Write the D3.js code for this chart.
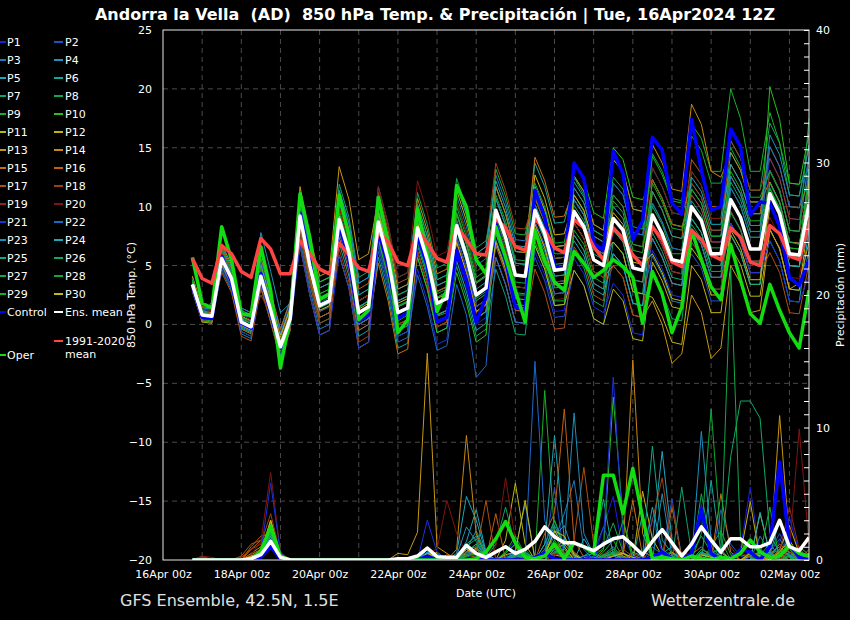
<!DOCTYPE html>
<html>
<head>
<meta charset="utf-8">
<script src="https://cdn.jsdelivr.net/npm/d3@7"></script>
<style>
  body { margin: 0; background: #000; }
  svg { display: block; font-family: "DejaVu Sans", sans-serif; }
</style>
</head>
<body>
<script>
const width = 850, height = 620;
const plot = { left: 163, right: 809, top: 30, bottom: 560 };

// run starts 16Apr2024 12Z, first step +6h, 6-hourly up to +384h
const firstStep = Date.UTC(2024, 3, 16, 18);
const nSteps = 64;

const memberNames = ['P1','P2','P3','P4','P5','P6','P7','P8','P9','P10','P11','P12','P13','P14','P15',
  'P16','P17','P18','P19','P20','P21','P22','P23','P24','P25','P26','P27','P28','P29','P30'];
const memberColors = ['#1e1ee0','#1e50c8','#1e78c0','#1e90c0','#18a8c0','#10a898','#10a070','#10a850','#18b028','#28c018',
  '#b8b810','#c8b010','#c89810','#c88810','#c87010','#c06010','#b05010','#a04010','#902818','#801410',
  '#1c30e0','#1c68c8','#1c90b8','#18a8b8','#10a888','#10a868','#10a848','#10a838','#18b020','#c8b810'];

// 850 hPa temperature (°C)
const climate = [5.6,3.9,3.5,6.7,6.0,4.5,4.0,7.3,6.4,4.3,4.3,7.1,6.0,4.7,4.3,6.9,5.9,4.8,4.5,7.8,7.0,5.3,5.0,8.0,6.9,5.6,5.3,8.3,7.2,6.0,5.9,9.0,8.2,6.6,6.3,9.0,8.0,6.5,6.1,8.9,8.2,6.6,5.5,8.2,7.3,5.9,5.0,8.3,7.2,5.3,4.9,8.0,7.2,5.9,5.5,8.2,7.4,5.3,5.0,8.4,7.7,5.8,5.5,8.6];
const ensMean = [3.4,0.8,0.7,5.6,3.9,0.2,-0.2,4.1,1.2,-1.9,0.5,9.2,5.0,1.6,2.0,8.9,6.1,1.0,1.5,8.7,5.5,1.0,1.4,8.2,5.5,1.8,2.2,8.4,5.8,2.5,3.1,9.7,7.4,4.2,4.1,9.7,7.7,4.6,4.7,9.6,8.3,5.5,5.0,9.0,8.0,4.8,4.6,9.3,7.7,5.5,5.3,10.0,8.8,6.0,6.0,10.6,9.1,6.4,6.4,11.1,9.4,6.0,5.9,10.2];
const control = [3.2,0.6,0.5,5.8,3.6,0.1,-0.3,4.3,1.0,-2.0,0.3,9.5,5.5,1.7,2.0,8.5,5.5,0.3,0.8,8.0,5.0,0.5,1.0,7.5,5.0,0.2,0.6,6.3,3.8,0.2,2.3,8.6,5.5,1.5,1.2,11.4,9.1,4.9,4.7,13.7,12.4,6.9,6.3,14.7,12.8,7.2,8.8,15.9,14.8,10.3,9.4,17.4,13.1,9.7,10.0,16.6,15.1,9.3,10.4,10.3,8.3,4.0,3.3,5.5];
const oper = [5.7,1.8,1.4,8.3,5.5,0.9,0.8,6.6,2.9,-3.7,0.6,11.1,7.4,2.1,2.6,11.0,7.5,0.4,1.2,10.8,7.0,-0.7,0.4,9.8,6.0,1.1,2.9,11.8,10.0,5.5,4.3,8.3,5.7,2.9,0.2,8.0,5.4,3.6,2.9,6.2,5.2,4.0,4.6,5.5,4.9,4.0,0.1,4.5,2.6,-0.7,1.5,8.0,5.5,3.2,2.1,6.8,3.8,0.9,0.1,3.4,1.2,-0.7,-2.0,2.9];

const memberTemp = [
  [3.1,0.5,0.4,5.1,3.4,-0.3,-0.7,3.8,0.9,-2.2,0.2,8.2,4.0,0.6,1.0,7.4,4.6,-0.5,0.0,6.7,3.5,-1.0,-0.6,7.2,4.5,0.8,1.2,5.9,3.3,0.0,0.6,6.7,4.4,1.2,1.1,6.2,4.2,1.1,1.2,7.6,6.3,3.5,3.0,8.0,7.0,3.8,3.6,9.3,7.7,5.5,5.3,11.0,9.8,7.0,7.0,12.6,11.1,8.4,8.4,14.1,12.4,9.0,8.9,13.2],
  [3.8,1.2,1.1,6.4,4.7,1.0,0.6,5.1,2.2,-0.9,1.5,9.7,5.5,2.1,2.5,10.4,7.6,2.5,3.0,10.7,7.5,3.0,3.4,9.2,6.5,2.8,3.2,7.4,4.8,1.5,2.1,7.7,5.4,2.2,2.1,5.7,3.7,0.6,0.7,4.6,3.3,0.5,0.0,6.0,5.0,1.8,1.6,7.3,5.7,3.5,3.3,6.0,4.8,2.0,2.0,7.6,6.1,3.4,3.4,10.1,8.4,5.0,4.9,10.2],
  [2.9,0.3,0.2,4.6,2.9,-0.8,-1.2,3.6,0.7,-2.4,0.0,7.2,3.0,-0.4,0.0,7.9,5.1,0.0,0.5,9.2,6.0,1.5,1.9,9.7,7.0,3.3,3.7,10.9,8.3,5.0,5.6,12.7,10.4,7.2,7.1,11.7,9.7,6.6,6.7,9.6,8.3,5.5,5.0,7.0,6.0,2.8,2.6,5.8,4.2,2.0,1.8,8.0,6.8,4.0,4.0,10.6,9.1,6.4,6.4,12.1,10.4,7.0,6.9,9.2],
  [3.6,1.0,0.9,5.9,4.2,0.5,0.1,3.3,0.4,-2.7,-0.3,10.2,6.0,2.6,3.0,11.4,8.6,3.5,4.0,11.7,8.5,4.0,4.4,10.2,7.5,3.8,4.2,6.4,3.8,0.5,1.1,5.7,3.4,0.2,0.1,7.7,5.7,2.6,2.7,10.6,9.3,6.5,6.0,12.0,11.0,7.8,7.6,13.3,11.7,9.5,9.3,12.0,10.8,8.0,8.0,9.6,8.1,5.4,5.4,8.1,6.4,3.0,2.9,6.2],
  [4.0,1.4,1.3,6.6,4.9,1.2,0.8,5.6,2.7,-0.4,2.0,11.2,7.0,3.6,4.0,9.4,6.6,1.5,2.0,7.2,4.0,-0.5,-0.1,5.7,3.0,-0.7,-0.3,5.4,2.8,-0.5,0.1,8.7,6.4,3.2,3.1,10.7,8.7,5.6,5.7,12.6,11.3,8.5,8.0,14.0,13.0,9.8,9.6,12.3,10.7,8.5,8.3,10.0,8.8,6.0,6.0,8.6,7.1,4.4,4.4,7.1,5.4,2.0,1.9,8.2],
  [3.2,0.6,0.5,5.6,3.9,0.2,-0.2,4.6,1.7,-1.4,1.0,8.7,4.5,1.1,1.5,6.9,4.1,-1.0,-0.5,5.7,2.5,-2.0,-1.6,6.7,4.0,0.3,0.7,8.9,6.3,3.0,3.6,11.7,9.4,6.2,6.1,13.7,11.7,8.6,8.7,12.1,10.8,8.0,7.5,9.0,8.0,4.8,4.6,8.3,6.7,4.5,4.3,11.5,10.3,7.5,7.5,14.6,13.1,10.4,10.4,13.1,11.4,8.0,7.9,11.2],
  [3.4,0.8,0.7,5.1,3.4,-0.3,-0.7,3.1,0.2,-2.9,-0.5,10.7,6.5,3.1,3.5,11.9,9.1,4.0,4.5,9.7,6.5,2.0,2.4,7.2,4.5,0.8,1.2,4.9,2.3,-1.0,-0.4,4.7,2.4,-0.8,-0.9,6.7,4.7,1.6,1.7,8.6,7.3,4.5,4.0,6.0,5.0,1.8,1.6,4.3,2.7,0.5,0.3,7.0,5.8,3.0,3.0,10.6,9.1,6.4,6.4,13.1,11.4,8.0,7.9,14.2],
  [3.7,1.1,1.0,6.1,4.4,0.7,0.3,4.1,1.2,-1.9,0.5,7.7,3.5,0.1,0.5,8.4,5.6,0.5,1.0,10.2,7.0,2.5,2.9,11.2,8.5,4.8,5.2,12.4,9.8,6.5,7.1,11.7,9.4,6.2,6.1,8.7,6.7,3.6,3.7,6.1,4.8,2.0,1.5,7.0,6.0,2.8,2.6,10.3,8.7,6.5,6.3,13.0,11.8,9.0,9.0,15.6,14.1,11.4,11.4,17.1,15.4,12.0,11.9,13.2],
  [3.0,0.4,0.3,4.8,3.1,-0.6,-1.0,4.6,1.7,-1.4,1.0,10.2,6.0,2.6,3.0,7.9,5.1,0.0,0.5,6.7,3.5,-1.0,-0.6,8.2,5.5,1.8,2.2,10.4,7.8,4.5,5.1,13.2,10.9,7.7,7.6,11.7,9.7,6.6,6.7,9.6,8.3,5.5,5.0,11.0,10.0,6.8,6.6,14.3,12.7,10.5,10.3,17.0,15.8,13.0,13.0,20.0,17.5,13.0,13.0,18.0,15.4,11.0,10.9,15.2],
  [3.9,1.3,1.2,5.9,4.2,0.5,0.1,3.6,0.7,-2.4,0.0,11.2,7.0,3.6,4.0,9.9,7.1,2.0,2.5,8.2,5.0,0.5,0.9,5.7,3.0,-0.7,-0.3,4.4,1.8,-1.5,-0.9,7.7,5.4,2.2,2.1,10.7,8.7,5.6,5.7,13.6,12.3,9.5,9.0,15.0,14.0,10.8,10.6,12.3,10.7,8.5,8.3,9.0,7.8,5.0,5.0,11.6,10.1,7.4,7.4,20.2,17.4,12.0,11.9,16.2],
  [2.8,0.2,0.1,6.1,4.4,0.7,0.3,5.1,2.2,-0.9,1.5,8.2,4.0,0.6,1.0,5.9,3.1,-2.0,-1.5,7.7,4.5,0.0,0.4,9.2,6.5,2.8,3.2,11.4,8.8,5.5,6.1,9.7,7.4,4.2,4.1,6.7,4.7,1.6,1.7,4.6,3.3,0.5,0.0,3.0,2.0,-1.2,-1.4,5.3,3.7,1.5,1.3,8.0,6.8,4.0,4.0,6.6,5.1,2.4,2.4,8.1,6.4,3.0,2.9,9.2],
  [3.5,0.9,0.8,5.3,3.6,-0.1,-0.5,4.9,2.0,-1.1,1.3,9.2,5.0,1.6,2.0,9.9,7.1,2.0,2.5,8.7,5.5,1.0,1.4,6.2,3.5,-0.2,0.2,7.4,4.8,1.5,2.1,10.7,8.4,5.2,5.1,12.7,10.7,7.6,7.7,10.6,9.3,6.5,6.0,7.0,6.0,2.8,2.6,2.3,0.7,-1.5,-1.7,5.0,3.8,1.0,1.0,7.6,6.1,3.4,3.4,10.1,8.4,5.0,4.9,12.2],
  [4.1,1.5,1.4,6.8,5.1,1.4,1.0,4.6,1.7,-1.4,1.0,11.7,7.5,4.1,4.5,13.4,10.6,5.5,6.0,10.7,7.5,3.0,3.4,7.2,4.5,0.8,1.2,6.4,3.8,0.5,1.1,9.7,7.4,4.2,4.1,11.7,9.7,6.6,6.7,8.6,7.3,4.5,4.0,5.0,4.0,0.8,0.6,2.0,0.0,-3.3,-2.5,2.5,1.0,-2.9,-2.0,5.0,3.5,1.0,1.2,8.0,6.5,3.0,3.5,7.0],
  [3.2,0.8,1.0,5.6,3.9,0.2,-0.2,4.4,1.5,-1.6,0.8,6.7,2.5,-0.9,-0.5,7.9,5.1,0.0,0.5,9.7,6.5,2.0,2.4,10.7,8.0,4.3,4.7,9.4,6.8,3.5,4.1,8.7,6.4,3.2,3.1,9.7,7.7,4.6,4.7,12.6,11.3,8.5,8.0,14.0,13.0,9.8,9.6,15.3,13.7,11.5,11.3,18.7,17.0,13.0,12.5,14.6,13.1,10.4,10.4,12.1,10.4,7.0,6.9,10.2],
  [3.7,1.1,1.0,5.0,3.3,-0.4,-0.8,3.6,0.7,-2.4,0.0,9.7,5.5,2.1,2.5,7.4,4.6,-0.5,0.0,5.2,2.0,-2.5,-2.1,6.2,3.5,-0.2,0.2,8.4,5.8,2.5,3.1,11.7,9.4,6.2,6.1,14.2,12.2,9.1,9.2,11.6,10.3,7.5,7.0,9.0,8.0,4.8,4.6,7.3,5.7,3.5,3.3,10.0,8.8,6.0,6.0,13.6,12.1,9.4,9.4,15.1,13.4,10.0,9.9,12.2],
  [2.9,0.3,0.2,6.4,4.7,1.0,0.6,5.6,2.7,-0.4,2.0,10.7,6.5,3.1,3.5,10.9,8.1,3.0,3.5,9.2,6.0,1.5,1.9,7.2,4.5,0.8,1.2,6.4,3.8,0.5,1.1,6.7,4.4,1.2,1.1,8.7,6.7,3.6,3.7,9.6,8.3,5.5,5.0,8.0,7.0,3.8,3.6,11.3,9.7,7.5,7.3,14.0,12.8,10.0,10.0,12.6,11.1,8.4,8.4,11.1,9.4,6.0,5.9,8.2],
  [3.6,1.0,0.9,4.4,2.7,-1.0,-1.4,3.1,0.2,-3.0,-0.5,8.2,4.0,0.6,1.0,9.9,7.1,2.0,2.5,11.2,8.0,3.5,3.9,9.2,6.5,2.8,3.2,6.9,4.3,1.0,1.6,5.7,3.4,0.2,0.1,4.7,2.7,-0.4,-0.3,6.6,5.3,2.5,2.0,9.0,8.0,4.8,4.6,12.3,10.7,8.5,8.3,11.0,9.8,7.0,7.0,8.6,7.1,4.4,4.4,6.1,4.4,1.0,0.9,5.2],
  [3.3,1.2,0.4,6.0,4.3,0.6,0.2,2.5,0.9,-2.2,0.2,7.7,3.5,0.1,0.5,6.4,3.6,-1.5,-1.0,7.7,4.5,0.0,0.4,9.7,7.0,3.3,3.7,11.9,9.3,6.0,6.6,13.7,11.4,8.2,8.1,10.7,8.7,5.6,5.7,7.6,6.3,3.5,3.0,5.0,4.0,0.8,0.6,8.3,6.7,4.5,4.3,12.0,10.8,8.0,8.0,15.6,14.1,11.4,11.4,14.1,12.4,9.0,8.9,11.2],
  [3.4,0.6,1.3,5.4,3.7,0.0,-0.4,4.7,1.8,-1.3,1.1,9.7,5.5,2.1,2.5,8.9,6.1,1.0,1.5,7.7,4.5,0.0,0.4,6.2,3.5,-0.2,0.2,9.4,6.8,3.5,4.1,9.7,7.4,4.2,4.1,7.7,5.7,2.6,2.7,9.6,8.3,5.5,5.0,10.0,9.0,5.8,5.6,8.3,6.7,4.5,4.3,7.0,5.8,3.0,3.0,9.6,8.1,5.4,5.4,13.1,11.4,8.0,7.9,11.2],
  [3.9,1.3,1.2,6.2,4.5,0.8,0.4,3.5,0.6,-2.5,-0.1,8.7,4.5,1.1,1.5,9.9,7.1,2.0,2.5,11.7,8.5,4.0,4.4,12.2,9.5,5.8,6.2,10.4,7.8,4.5,5.1,8.7,6.4,3.2,3.1,7.2,5.2,2.1,2.2,8.6,7.3,4.5,4.0,11.0,10.0,6.8,6.6,13.3,11.7,9.5,9.3,13.0,11.8,9.0,9.0,10.6,9.1,6.4,6.4,9.1,7.4,4.0,3.9,9.2],
  [3.1,0.5,0.4,4.8,3.1,-0.6,-1.0,3.5,0.6,-2.5,-0.1,6.7,2.5,-0.9,-0.5,5.9,3.1,-2.0,-1.5,6.7,3.5,-1.0,-0.6,4.7,2.0,-1.7,-1.3,7.4,4.8,1.5,2.1,10.7,8.4,5.2,5.1,8.7,6.7,3.6,3.7,5.6,4.3,1.5,1.0,3.5,2.5,-0.7,-0.9,6.3,4.7,2.5,2.3,10.0,8.8,6.0,6.0,8.6,7.1,4.4,4.4,7.1,5.4,2.0,1.9,4.2],
  [3.8,1.0,1.9,5.8,4.1,1.4,1.0,5.3,2.4,-0.7,1.7,8.7,4.5,1.1,1.5,7.9,5.1,0.0,0.5,6.2,3.0,-1.5,-1.1,4.2,1.5,-2.2,-1.8,3.4,0.8,-4.5,-3.5,5.7,3.4,0.2,0.1,7.7,5.7,2.6,2.7,10.6,9.3,6.5,6.0,12.0,11.0,7.8,7.6,10.3,8.7,6.5,6.3,8.0,6.8,4.0,4.0,11.6,10.1,7.4,7.4,15.1,13.4,10.0,9.9,14.2],
  [3.0,0.9,0.6,5.9,4.4,0.8,0.6,7.8,4.5,1.0,1.8,10.7,6.5,3.1,3.5,11.4,8.6,3.5,4.0,9.7,6.5,2.0,2.4,8.7,6.0,2.3,2.7,6.4,3.8,0.5,1.1,7.2,4.9,1.7,1.6,9.2,7.2,4.1,4.2,11.6,10.3,7.5,7.0,10.0,9.0,5.8,5.6,7.3,5.7,3.5,3.3,9.0,7.8,5.0,5.0,12.6,11.1,8.4,8.4,16.1,14.4,11.0,10.9,15.2],
  [3.6,0.7,0.5,5.2,3.5,-0.2,-0.6,4.4,1.5,-1.6,0.8,9.7,5.5,2.1,2.5,9.4,6.6,1.5,2.0,8.2,5.0,0.5,0.9,9.7,7.0,3.3,3.7,11.9,9.3,6.0,6.6,12.2,9.9,6.7,6.6,10.2,8.2,5.1,5.2,7.1,5.8,3.0,2.5,6.0,5.0,1.8,1.6,9.3,7.7,5.5,5.3,12.5,11.3,8.5,8.5,13.6,12.1,9.4,9.4,10.1,8.4,5.0,4.9,8.2],
  [3.2,1.0,0.9,5.8,4.0,0.4,0.1,4.3,1.4,-1.7,0.7,9.9,5.7,2.3,2.7,10.4,7.6,2.5,3.0,10.2,7.0,2.5,2.9,7.2,4.5,0.8,1.2,7.9,5.3,2.0,2.6,10.7,8.4,5.2,5.1,8.2,6.2,3.1,3.2,7.6,6.3,3.5,3.0,9.0,8.0,4.8,4.6,11.3,9.7,7.5,7.3,9.0,7.8,5.0,5.0,7.6,6.1,3.4,3.4,11.1,9.4,6.0,5.9,13.2],
  [3.5,0.8,0.9,5.3,3.6,0.0,-0.3,4.4,1.5,-1.4,0.8,9.0,4.8,1.4,1.8,8.2,5.4,0.4,0.9,9.2,6.0,1.5,1.9,10.2,7.5,3.8,4.2,9.4,6.8,3.5,4.1,8.2,5.9,2.7,2.6,9.2,7.2,4.1,4.2,10.1,8.8,6.0,5.5,8.0,7.0,3.8,3.6,7.8,6.2,4.0,3.8,10.5,9.3,6.5,6.5,12.1,10.6,7.9,7.9,11.6,9.9,6.5,6.4,10.7],
  [3.8,1.2,0.8,6.3,4.5,0.6,0.3,4.9,1.8,-1.6,0.9,10.0,5.6,2.1,2.6,9.5,6.6,1.4,2.0,8.0,4.9,0.3,0.8,7.0,4.3,0.7,1.0,8.0,5.5,2.2,2.8,9.0,6.8,3.6,3.5,11.0,9.0,6.0,6.0,12.5,11.0,8.0,7.5,11.0,10.0,6.8,6.6,10.0,8.5,6.0,6.0,8.5,7.3,4.5,4.5,9.5,8.0,5.3,5.3,12.0,10.3,7.0,6.8,11.5],
  [3.0,0.6,0.4,5.4,3.8,0.0,-0.4,4.3,1.0,-2.2,0.3,9.5,5.3,1.8,2.3,8.6,5.8,0.6,1.2,9.5,6.2,1.6,2.0,9.0,6.3,2.6,3.0,10.0,7.4,4.0,4.6,11.0,8.8,5.5,5.4,12.0,10.0,6.9,7.0,11.0,9.6,6.8,6.3,12.5,11.5,8.3,8.1,14.5,13.0,10.7,10.5,16.0,14.8,12.0,12.0,15.0,13.4,10.8,10.8,13.0,11.3,8.0,7.9,17.5],
  [3.6,0.9,0.8,5.7,4.0,0.3,-0.1,4.0,1.0,-2.0,0.4,9.8,5.6,2.1,2.4,8.5,5.6,0.4,1.0,7.2,4.0,-0.5,-0.1,8.8,6.0,2.3,2.8,9.5,7.0,3.6,4.2,8.0,5.8,2.5,2.5,7.0,5.0,2.0,2.0,8.0,6.8,4.0,3.5,10.5,9.5,6.3,6.1,12.0,10.4,8.2,8.0,11.5,10.3,7.5,7.5,13.0,11.5,8.8,8.8,11.5,9.8,6.5,6.4,12.5],
  [3.3,0.7,0.6,5.5,3.8,0.1,-0.3,3.9,1.0,-2.1,0.3,8.8,4.6,1.2,1.6,9.2,6.4,1.3,1.8,9.5,6.3,1.8,2.2,8.6,5.9,2.2,2.6,7.0,4.4,1.1,1.7,7.0,4.7,1.5,1.4,8.5,6.5,3.4,3.5,11.0,9.7,6.9,6.4,9.5,8.5,5.3,5.1,6.0,4.4,2.2,2.0,6.5,5.3,2.5,2.5,8.0,6.5,3.8,3.8,11.0,9.3,5.9,5.8,10.0]
];

// precipitation per 6h (mm)
const ensMeanPrecip = [0,0,0,0,0,0,0.1,0.4,1.4,0.2,0,0,0,0,0,0,0,0,0,0,0,0.1,0.1,0.3,0.9,0.25,0.2,0.2,1.1,0.5,0.2,0.6,1.0,0.5,0.8,1.4,2.5,1.75,1.3,1.3,1.0,0.7,1.2,1.6,1.75,1.1,0.4,1.4,2.3,1.3,0.3,1.2,2.5,1.5,0.6,1.6,1.6,1.0,1.0,1.3,3.0,1.0,0.7,1.7];
const operPrecip = [0,0,0,0,0,0,0,0.7,2.5,0.3,0,0,0,0,0,0,0,0,0,0,0,0,0,0,0,0,0,0,0,0.1,0.6,1.6,2.9,1.3,0.2,0.1,0.3,1.2,0.1,1.3,1.0,0.5,6.4,6.4,3.5,6.9,3.2,0.1,0.2,0.1,0,0.3,0.1,0,0.2,0.1,0.5,1.5,0.6,0.2,0.3,1.1,0.5,0.3];
const controlPrecip = [0,0,0,0,0,0,0,0.2,1.0,0.1,0,0,0,0,0,0,0,0,0,0,0,0,0,0,0.3,0,0,0,0,0,0,0,0,0,0,0.2,0.5,0.1,0,0,0,0,0,0,0,0,0,0.2,0.6,0.1,0,0.5,3.8,0.5,0,0,0.8,0.6,0,1.0,7.4,1.2,0.2,0];

const memberPrecip = [
  [0,0,0,0,0,0,0,0.3,1.2,0.2,0,0,0,0,0,0,0,0,0,0,0, 0,0,0,0.6,0.2,0,0,0.4,0.8,0.2,0,0.5,1.5,0.3,0,0.8,2.4,0.5,0,0, 0,2.5,4.8,0.6,0,0,3.2,0.5,0.2,0,0,4.2,0.4,0,0.3,0.8,5.5,0.2,0,1.4,3.2,0.6,0.2],
  [0,0,0,0,0,0,0,0.2,2.0,0.3,0,0,0,0,0,0,0,0,0,0,0, 0,0,0,0.4,0,0,0,0.2,0.5,0,0,0.3,0.6,0,0,0.4,5.5,0.2,0,0, 0.6,2.5,0.8,0,0,0,0,0.3,4.6,0.2,0,0,0,3.8,1.2,0.3,0,0,0.6,2.0,0.4,0,0],
  [0,0,0,0,0,0,0.2,0.5,1.8,0.3,0,0,0,0,0,0,0,0,0,0,0, 0,0,0,0.2,0.5,0,0,1.0,0.6,0,0,0,0.8,4.2,0.2,0,1.5,3.5,6.0,0.8, 0,0,0.5,0.2,0,0,1.0,0.4,0,0,0,0,0.5,0.2,0,0,0,1.8,0.6,0,0.3,0.9,0],
  [0,0,0,0,0,0,0,0.4,2.2,0.4,0,0,0,0,0,0,0,0,0,0,0, 0,0,0,0.8,0.3,0,0,0.6,1.2,0.3,0,0,0.4,0.2,0,0.5,1.8,2.6,0.4,0, 0,0,0,0.5,0.2,0,0,0,0.6,0.2,0,9.7,1.5,0.3,0,0,0.4,0,0,0.8,1.2,0.2,0],
  [0,0,0,0,0,0,0,0.2,1.5,0.2,0,0,0,0,0,0,0,0,0,0,0, 0,0,0,0.3,0,0,0.2,1.4,3.8,0.6,0,0,0.6,0.2,0,0,0.8,0.5,0,1.6, 0.4,0,0,0,0.6,0.3,1.4,8.2,1.5,0.2,0,0,0.5,0.8,0,0,0.3,0,0,0.7,0.4,0,0],
  [0,0,0,0,0,0,0,0.3,1.6,0.3,0,0,0,0,0,0,0,0,0,0,0, 0,0,0,0.5,0.2,0,0,0.8,2.2,0.5,0,0.2,0.4,0,0,1.2,3.0,1.0,0,0.3, 0.8,4.6,0.3,0,0,3.5,0,0.5,1.0,0,0,0,6.0,0.6,0,0,0,0,0.4,3.0,0.3,0,0.5],
  [0,0,0,0,0,0,0.3,0.6,2.4,0.3,0,0,0,0,0,0,0,0,0,0,0, 0,0,0,0.2,0,0,0,0.3,0.8,0.2,1.2,4.0,1.0,0,0,0,0.6,0.3,0,0, 0,0.4,1.0,0.2,0,0,0,0,0,5.5,0.5,1.8,0.6,0,0,0,0,0.8,0.3,0,0,0.6,0.2],
  [0,0,0,0,0,0,0,0.2,1.9,0.2,0,0,0,0,0,0,0,0,0,0,0, 0,0,0,0.4,0,0,0,1.0,1.6,0.3,0,0,0,0.5,0.2,0,1.2,0.6,0,0, 0.3,0.9,2.8,0.6,0,0,0,0.3,0,0,0,5.0,1.0,0.2,0,0,0,0.4,1.2,0.3,0,0,0],
  [0,0,0,0,0,0,0,0.4,2.0,0.4,0,0,0,0,0,0,0,0,0,0,0, 0,0,0,0.3,0,0,0,0.6,1.2,0.2,0,0,0.5,0.8,0,12.8,2.0,0.3,0,0, 0,0.6,1.5,0.2,0,0,0,0.4,0.6,0,0,0,1.0,2.2,0.4,0,0,0,0,0.5,0.8,0,0.3],
  [0,0,0,0,0,0,0,0.3,2.8,0.3,0,0,0,0,0,0,0,0,0,0,0, 0,0,0,0.2,0,0,0,0.5,0.3,0,0,0,0.3,0.6,0,0,0.8,1.5,0.5,0, 0,0.8,12.3,3.0,0.4,0,0,0,0.3,0,0,0.6,0.2,0,0,0,0,0.5,0.2,0,0,1.0,0.4],
  [0,0,0,0,0,0,0.2,0.6,3.0,0.4,0,0,0,0,0,0,0,0,0,0,0, 0,0,0,0.6,0,0,0,0.8,0.5,0,0,1.5,5.8,1.2,0,0,0.4,0.2,0,0, 0,0,0.3,0.5,0,0,0,0,4.0,0.2,0,0,0,0.6,0,0,0,3.5,0.5,0,0,0,0.3],
  [0,0,0,0,0,0,0,0.3,1.4,0.2,0,0,0,0,0,0,0,0,0,0,0, 0,0,0,0.2,0.6,0,0,0.5,0.9,0.3,0,0,0.4,0,0,0.5,2.2,1.0,0,0, 0,0,0.6,0.3,0,5.2,1.6,0.3,0,0,0,0,0.3,0,0,0.5,4.4,0,0,0.8,2.6,0.5,0],
  [0,0,0,0,0,0,0.4,0.8,2.6,0.3,0,0,0,0,0,0,0,0,0,0,0, 0.5,0.4,2.1,15.6,1.0,0.5,0,0.3,0.6,0,0,0,0.5,0.2,0,0,0.8,1.2,0.3,0, 0,0,0.4,0.2,0,0,0,0,0.6,0,0,0.3,0.5,0,0,0,0.3,0.6,0,10.9,1.5,0.2,0],
  [0,0,0,0,0,0,0.5,1.0,2.2,0.2,0,0,0,0,0,0,0,0,0,0,0, 0,0,0,0.4,0,0,0.8,9.4,2.0,0.3,0,0,0.4,0.3,0,0,0.6,0.8,0.2,0, 0,0,0.4,0.6,15.1,2.0,0.3,0,0,0,0,0.5,0.2,0,0,0,0,0.6,0.3,0,0.9,0.2,0],
  [0,0,0,0,0,0,0.8,1.5,1.8,0.2,0,0,0,0,0,0,0,0,0,0,0, 0,0,0,0.2,0,0,0,0.6,0.4,0,0,0.5,1.2,0.2,0,0,0.8,1.6,0.6,0, 0.2,0,0,0.4,4.5,0.3,0,0,0.4,0.2,0,0,0,5.0,0.6,0,0,0,0.3,1.2,0.6,0,0],
  [0,0,0,0,0,0,1.0,1.8,2.0,0.3,0,0,0,0,0,0,0,0,0,0,0, 0,0,0,0.3,0,0,0,0.4,0.2,0,3.5,0,0.3,0.5,0,2.0,3.5,11.4,1.5,0.2, 0,0,0.3,0,0,0.6,0.3,0,0,0,0.4,1.0,0.2,0,0,0,0,0,0.5,0.3,0,0,0.8],
  [0,0.2,0,0,0,0.3,1.2,1.5,2.4,0.5,0,0,0,0,0,0,0,0,0,0,0, 0,0,0,0.2,0,0,0,0.3,0.5,4.5,0,0,0.6,0.3,0,0,0.5,0.2,1.5,7.0, 1.2,0.3,0,0,0.5,0.2,0,0,0,0.6,0.3,0,0,0,0,0.4,0.2,0,0,0,0.6,0.3,0],
  [0,0.3,0,0,0,0.2,0.8,1.2,3.5,0.4,0,0,0,0,0,0,0,0,0,0,0, 0,0,0,0.5,0,0.4,0.2,0.6,0.3,0,0,0,0,0.4,0,0,0.6,0.5,0,0, 0,0,0.5,0.8,0.3,0,3.0,6.2,1.0,0,0,0,0.4,0,0,0,0.5,0.2,0,0.8,0.3,0,0],
  [0,0.2,0.1,0,0,0,0.3,0.8,2.0,0.2,0,0,0,0,0,0,0,0,0,0,0, 0,0,0,0.3,0,0.2,0,0.4,0.6,0,0,0,0.3,0,0,0.5,0.8,0.3,0,0, 0,0.4,0.8,0.2,0,0,0,0,4.2,0,0,0,0,0.6,1.0,0,0,0,0,0.6,4.0,0.8,0],
  [0,0.3,0.2,0,0,0,0.4,1.4,6.6,0.6,0,0,0,0,0,0,0,0,0,0,0, 0,0,0,0.6,0.8,4.5,2.0,0.5,0.3,0,1.0,6.2,1.5,0.2,0,0,0.4,0.6,0,0, 0,0.5,0.3,0,0,0,0.2,0.4,0,0,0,0,0.3,0,0,0.5,0.3,0,0,0,0.8,9.9,1.2],
  [0,0,0,0,0,0,0,0.6,5.8,0.5,0,0,0,0,0,0,0,0,0,0,0, 0,0,0,3.0,0.6,0,0,0.4,0.3,0,0,0,0.2,0.5,0,0,0.6,0.4,0,0.3, 0.2,1.5,13.8,1.8,0.3,0,0,0,0.4,0,0,0,0.5,0.2,0,0,0,0.4,0.6,0,0,0.3,0],
  [0,0,0,0,0,0,0,0.3,2.2,0.3,0,0,0,0,0,0,0,0,0,0,0, 0,0,0,1.0,0.3,0,0,0.6,0.4,0,0,0,0.5,0.3,15.0,3.0,0.6,0.3,0,0, 0,0,0.6,0.2,0,0,0.5,0.3,0,0,0,0.8,0.5,0,0,0,0,0,0.6,1.6,0.4,0,0],
  [0,0,0,0,0,0,0.2,0.4,1.6,0.2,0,0,0,0,0,0,0,0,0,0,0, 0,0,0,0.8,0.2,0,0.3,2.5,1.4,0.2,0,0,0.6,0.2,0,0.8,2.6,1.0,11.1,2.0, 0.4,0,0.3,0,0,0,0,5.0,0.3,0,0,0,0.5,0.2,0,0,0,0.3,0.6,0,0,0.4,0],
  [0,0,0,0,0,0,0,0.3,1.8,0.3,0,0,0,0,0,0,0,0,0,0,0, 0,0,0,0.6,0.3,0,0.5,4.8,3.0,0.5,0,0,0.3,0.6,0,1.2,9.4,1.5,0.3,0, 0,0.3,0.5,0,0,0,4.0,0.8,0.2,0,0,0.6,0.3,0,0,0,0,3.6,0.5,1.0,0.3,0,0],
  [0,0,0,0,0,0,0,0.2,1.3,0.2,0,0,0,0,0,0,0,0,0,0,0, 0,0,0,0.4,0.2,0,0.2,1.2,1.8,0.4,0,0,0.4,0.2,0,0.6,1.0,0.4,0,0.3, 0.5,0.2,0,0,0,0.3,8.6,1.5,0.5,0,0,0,0.6,0.3,0,0,0,0,0.4,0.8,0.2,0,0.3],
  [0,0,0,0,0,0,0,0.4,2.0,0.3,0,0,0,0,0,0,0,0,0,0,0, 0,0,0,0.3,0,0,0,0.8,1.0,0.2,0,0,0.2,0.4,0,0.4,0.8,0.3,0,0, 0,0.4,0.6,0,0,0,0,0.4,0.3,0,0,0.5,0.3,0,7.8,12.0,12.0,10.7,2.0,0.5,0,0.3,0],
  [0,0,0,0,0,0,0,0.3,2.5,0.2,0,0,0,0,0,0,0,0,0,0,0, 0,0,0,0.2,0,0,0,0.4,0.6,0,0,0.5,1.2,0.3,0,0.5,3.0,0.8,0,0, 0,0.3,0.8,0.2,0,0,0,0.6,0.2,0,0,0,0.6,0.8,22.0,1.5,0.2,0,0,0.4,0.2,0,0.3],
  [0,0,0,0,0,0,0,0.2,2.2,0.3,0,0,0,0,0,0,0,0,0,0,0, 0,0,0,0.3,0,0,0,0.6,0.8,0.2,0,0,0.3,0.5,0,0,0.6,0.4,0,0, 0,0.2,0.5,0,0,0,0,0.4,0.2,0,0,2.0,11.4,1.5,0,0,0,0.3,0.5,0,0,0.3,0],
  [0,0,0,0,0,0,0,0.4,2.6,0.3,0,0,0,0,0,0,0,0,0,0,0, 0,0,0,0.2,0,0,0,0.3,0.5,0,0,0.6,1.8,0.4,0,0.3,1.5,0.5,0,0, 0,0.3,0.4,3.0,0,0,0,0.5,0.3,0,0,0.8,0.4,0,0,0,0.6,0.4,4.0,0,0.3,0.6,0.2],
  [0,0,0,0,0,0,0.3,0.5,3.0,0.3,0,0,0,0,0,0,0,0,0,0,0, 0,0,0,0.5,0.2,0,0.2,0.8,0.4,0,0,0.4,0.6,4.5,0,0.3,2.2,1.8,0.4,0, 0,0,0.3,0.5,0.2,0,0,0.3,0,0,0,0.4,0.2,0,0,0,0.5,0.3,0,0.6,1.5,0.3,0]
];

const dateTicks = [16, 18, 20, 22, 24, 26, 28, 30, 32].map(d => new Date(Date.UTC(2024, 3, d)));
const tempTicks = [-20, -15, -10, -5, 0, 5, 10, 15, 20, 25];
const precipTicks = [0, 10, 20, 30, 40];

const times = d3.range(nSteps).map(i => new Date(firstStep + i * 6 * 3600e3));

const x = d3.scaleUtc()
  .domain([new Date(Date.UTC(2024, 3, 16)), new Date(Date.UTC(2024, 4, 2, 12))])
  .range([plot.left, plot.right]);
const yT = d3.scaleLinear().domain([-20, 25]).range([plot.bottom, plot.top]);
const yP = d3.scaleLinear().domain([0, 40]).range([plot.bottom, plot.top]);

const svg = d3.select('body').append('svg')
  .attr('width', width)
  .attr('height', height);

svg.append('rect').attr('width', width).attr('height', height).attr('fill', '#000');

svg.append('defs').append('clipPath').attr('id', 'clip')
  .append('rect')
  .attr('x', plot.left).attr('y', plot.top)
  .attr('width', plot.right - plot.left).attr('height', plot.bottom - plot.top);

// grid
const grid = svg.append('g').attr('stroke', '#4a4a4a').attr('stroke-dasharray', '5,4').attr('stroke-width', 1);
grid.selectAll('.h').data(tempTicks.slice(1, -1)).join('line')
  .attr('x1', plot.left).attr('x2', plot.right)
  .attr('y1', d => yT(d)).attr('y2', d => yT(d));
grid.selectAll('.v').data(d3.utcDay.range(new Date(Date.UTC(2024, 3, 17)), new Date(Date.UTC(2024, 4, 2, 1)))).join('line')
  .attr('y1', plot.top).attr('y2', plot.bottom)
  .attr('x1', d => x(d)).attr('x2', d => x(d));

const lineT = d3.line().x((d, i) => x(times[i])).y(d => yT(d));
const lineP = d3.line().x((d, i) => x(times[i])).y(d => yP(d));

const marks = svg.append('g').attr('clip-path', 'url(#clip)').attr('fill', 'none')
  .attr('stroke-linejoin', 'round');

// members, thin
marks.selectAll('.mt').data(memberTemp).join('path')
  .attr('d', lineT)
  .attr('stroke', (d, i) => memberColors[i])
  .attr('stroke-width', 1);
marks.selectAll('.mp').data(memberPrecip).join('path')
  .attr('d', lineP)
  .attr('stroke', (d, i) => memberColors[i])
  .attr('stroke-width', 1);

// main runs, thick
const thick = [
  { data: control, line: lineT, color: '#0000ff' },
  { data: controlPrecip, line: lineP, color: '#0000ff' },
  { data: oper, line: lineT, color: '#11dd11' },
  { data: operPrecip, line: lineP, color: '#11dd11' },
  { data: climate, line: lineT, color: '#ff4444' },
  { data: ensMean, line: lineT, color: '#ffffff' },
  { data: ensMeanPrecip, line: lineP, color: '#ffffff' }
];
thick.forEach(s => {
  marks.append('path')
    .attr('d', s.line(s.data))
    .attr('stroke', s.color)
    .attr('stroke-width', 3.5);
});

// frame
svg.append('rect')
  .attr('x', plot.left).attr('y', plot.top)
  .attr('width', plot.right - plot.left).attr('height', plot.bottom - plot.top)
  .attr('fill', 'none').attr('stroke', '#e8e8e8').attr('stroke-width', 1);

// axes
const styleAxis = g => {
  g.select('.domain').remove();
  g.selectAll('text').attr('fill', '#fff').attr('font-size', 11).attr('font-family', '"DejaVu Sans", sans-serif');
  g.selectAll('line').attr('stroke', '#fff');
};

svg.append('g')
  .attr('transform', `translate(${plot.left},0)`)
  .call(d3.axisLeft(yT).tickValues(tempTicks).tickSize(0).tickPadding(11))
  .call(styleAxis);

svg.append('g')
  .attr('transform', `translate(${plot.right},0)`)
  .call(d3.axisRight(yP).tickValues(d3.range(0, 41, 1)).tickSize(-5).tickPadding(7)
    .tickFormat(d => precipTicks.includes(d) ? d : ''))
  .call(styleAxis);

svg.append('g')
  .attr('transform', `translate(0,${plot.bottom})`)
  .call(d3.axisBottom(x).tickValues(dateTicks).tickSize(0).tickPadding(10)
    .tickFormat(d3.utcFormat('%d%b %Hz')))
  .call(styleAxis);

// labels
svg.append('text')
  .attr('x', 435).attr('y', 20)
  .attr('text-anchor', 'middle')
  .style('white-space', 'pre')
  .attr('fill', '#fff').attr('font-weight', 'bold').attr('font-size', 16)
  .text('Andorra la Vella  (AD)  850 hPa Temp. & Precipitación | Tue, 16Apr2024 12Z');

svg.append('text')
  .attr('x', (plot.left + plot.right) / 2).attr('y', 597)
  .attr('text-anchor', 'middle').attr('fill', '#fff').attr('font-size', 11)
  .text('Date (UTC)');

svg.append('text')
  .attr('transform', `translate(135,${(plot.top + plot.bottom) / 2}) rotate(-90)`)
  .attr('text-anchor', 'middle').attr('fill', '#fff').attr('font-size', 11)
  .text('850 hPa Temp. (°C)');

svg.append('text')
  .attr('transform', `translate(844,${(plot.top + plot.bottom) / 2}) rotate(-90)`)
  .attr('text-anchor', 'middle').attr('fill', '#fff').attr('font-size', 11)
  .text('Precipitación (mm)');

svg.append('text')
  .attr('x', 120).attr('y', 606)
  .attr('fill', '#e0e0e0').attr('font-size', 16)
  .text('GFS Ensemble, 42.5N, 1.5E');

svg.append('text')
  .attr('x', 795).attr('y', 606).attr('text-anchor', 'end')
  .attr('fill', '#e0e0e0').attr('font-size', 16)
  .text('Wetterzentrale.de');

// legend
const legendItems = memberNames.map((name, i) => ({
  name: [name], color: memberColors[i], col: i % 2, y: 42 + Math.floor(i / 2) * 18
}));
legendItems.push({ name: ['Control'], color: '#0000ff', col: 0, y: 312 });
legendItems.push({ name: ['Ens. mean'], color: '#ffffff', col: 1, y: 312 });
legendItems.push({ name: ['1991-2020', 'mean'], color: '#ff4444', col: 1, y: 341 });
legendItems.push({ name: ['Oper'], color: '#11dd11', col: 0, y: 355 });

const legend = svg.append('g').attr('font-size', 11).attr('fill', '#fff');
const entry = legend.selectAll('g').data(legendItems).join('g')
  .attr('transform', d => `translate(${d.col ? 54 : 0},${d.y})`);
entry.append('line')
  .attr('x1', d => d.col ? 0 : -3).attr('x2', d => d.col ? 9 : 6)
  .attr('stroke', d => d.color).attr('stroke-width', 2);
entry.append('text')
  .attr('x', d => d.col ? 11 : 7).attr('y', 4)
  .selectAll('tspan').data(d => d.name).join('tspan')
  .attr('x', function () { return d3.select(this.parentNode).attr('x'); })
  .attr('dy', (d, i) => i ? 13 : 0)
  .text(d => d);
</script>
</body>
</html>
